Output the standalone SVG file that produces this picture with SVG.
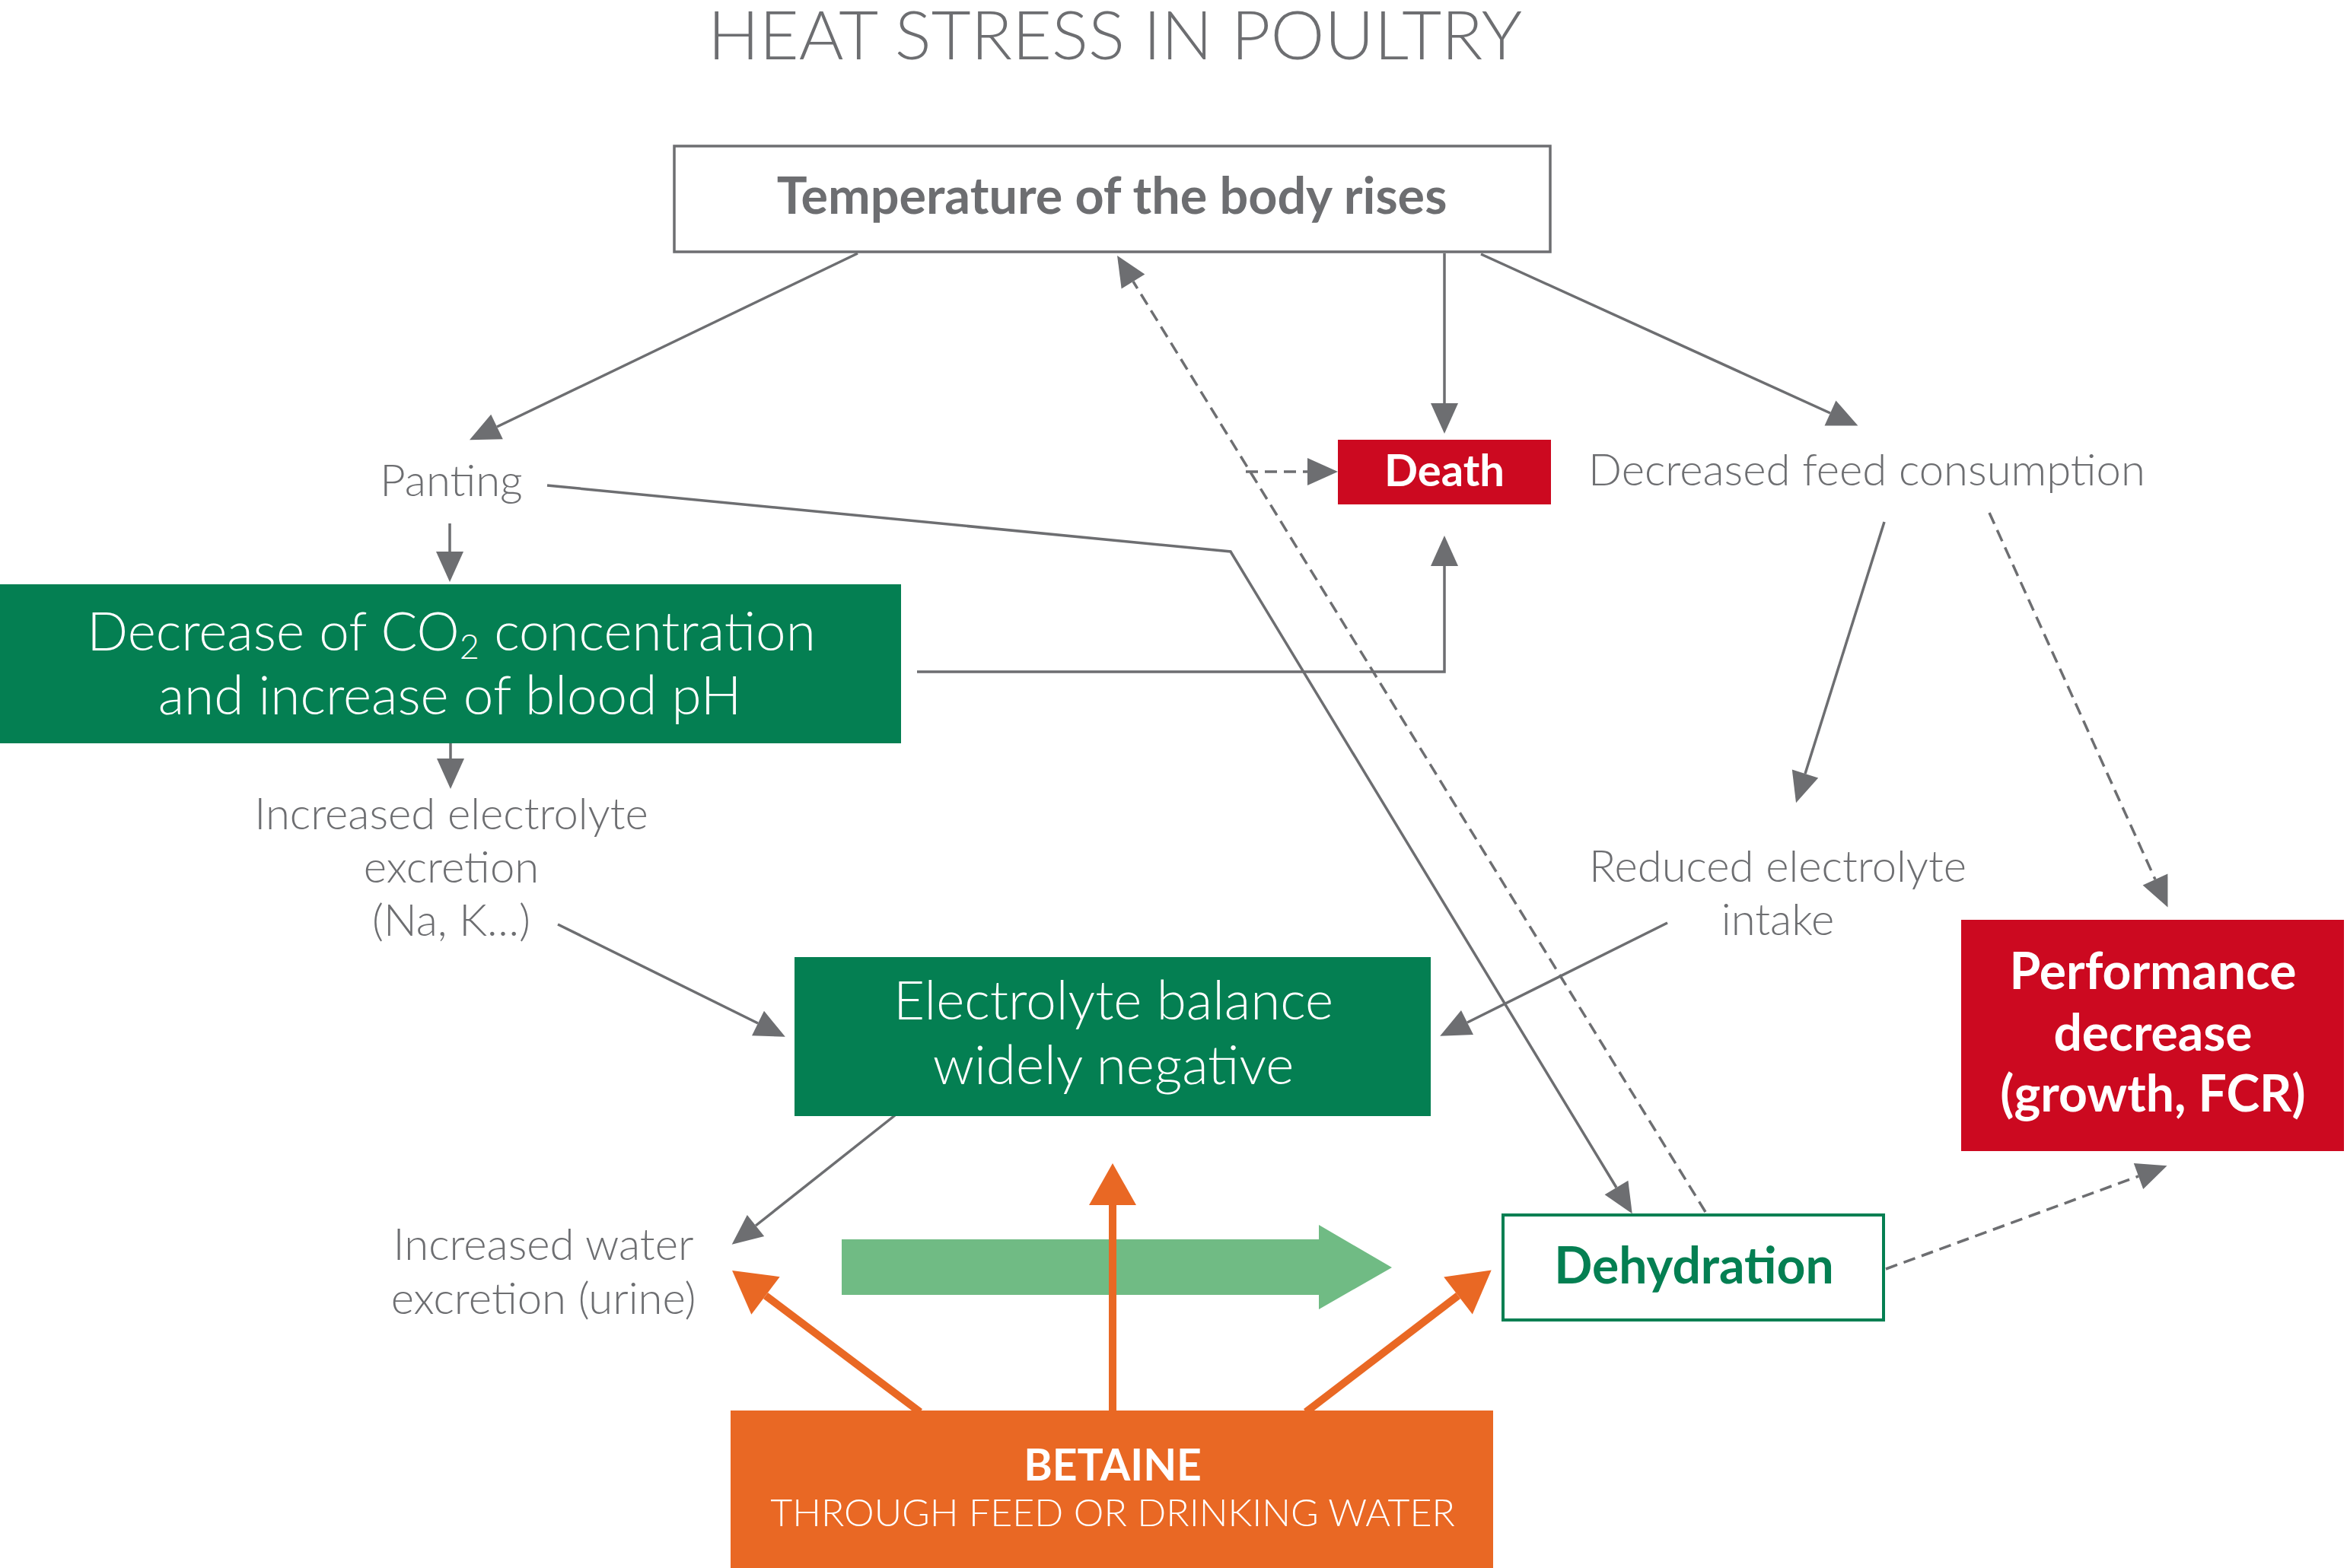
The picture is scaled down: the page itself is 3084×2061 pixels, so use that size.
<svg xmlns="http://www.w3.org/2000/svg" width="3084" height="2061" viewBox="0 0 3084 2061">
<defs>
<style>
.t{font-family:Lato,"Open Sans","Liberation Sans",sans-serif;text-anchor:middle}
.lt{font-weight:300}
.bd{font-weight:700}
.g{fill:#6d6e71}
.w{fill:#ffffff}
.c{fill:none;stroke:#6d6e71;stroke-width:3.5}
.d{stroke-dasharray:16 9}
.o{fill:none;stroke:#e96824;stroke-width:10}
</style>
<marker id="ah" viewBox="0 -18 40 36" refX="0" refY="0" markerWidth="40" markerHeight="36" markerUnits="userSpaceOnUse" orient="auto" overflow="visible">
<path d="M0,-18 L40,0 L0,18 z" fill="#6d6e71"/>
</marker>
<marker id="oh" viewBox="0 -31 55 62" refX="0" refY="0" markerWidth="55" markerHeight="62" markerUnits="userSpaceOnUse" orient="auto" overflow="visible">
<path d="M0,-31 L55,0 L0,31 z" fill="#e96824"/>
</marker>
</defs>
<rect width="3084" height="2061" fill="#ffffff"/>
<text class="t lt g" x="1465" y="78" font-size="88" textLength="1070" lengthAdjust="spacingAndGlyphs">HEAT STRESS IN POULTRY</text>

<g id="connectors">
<line class="c" x1="1127" y1="333" x2="653" y2="561" marker-end="url(#ah)"/>
<line class="c" x1="1898" y1="333" x2="1898" y2="530" marker-end="url(#ah)"/>
<line class="c" x1="1946" y1="334" x2="2405" y2="543" marker-end="url(#ah)"/>
<line class="c d" x1="2241" y1="1593" x2="1489" y2="370" marker-end="url(#ah)"/>
<line class="c d" x1="1637" y1="620" x2="1718" y2="620" marker-end="url(#ah)"/>
<polyline class="c" points="719,638 1617,725 2124,1561" marker-end="url(#ah)"/>
<line class="c" x1="2476" y1="686" x2="2372" y2="1017" marker-end="url(#ah)"/>
<line class="c d" x1="2614" y1="674" x2="2832" y2="1156" marker-end="url(#ah)"/>
<line class="c" x1="2191" y1="1213" x2="1928" y2="1344" marker-end="url(#ah)"/>
<line class="c d" x1="2478" y1="1668" x2="2810" y2="1546" marker-end="url(#ah)"/>
<line class="c" x1="591" y1="688" x2="591" y2="725" marker-end="url(#ah)"/>
<polyline class="c" points="1205,883 1898,883 1898,744" marker-end="url(#ah)"/>
<line class="c" x1="592" y1="977" x2="592" y2="997" marker-end="url(#ah)"/>
<line class="c" x1="733" y1="1215" x2="996" y2="1345" marker-end="url(#ah)"/>
<line class="c" x1="1176" y1="1466" x2="993" y2="1611" marker-end="url(#ah)"/>
<path d="M1106,1629 H1733 V1610 L1829,1666 L1733,1721 V1702 H1106 z" fill="#70bb84"/>
<line class="o" x1="1462" y1="1856" x2="1462" y2="1584" marker-end="url(#oh)"/>
<line class="o" x1="1209" y1="1856" x2="1006" y2="1703" marker-end="url(#oh)"/>
<line class="o" x1="1716" y1="1856" x2="1916" y2="1703" marker-end="url(#oh)"/>
</g>

<g id="node-temperature">
<rect x="886" y="192" width="1151" height="139" fill="#ffffff" stroke="#6d6e71" stroke-width="3.5"/>
<text class="t bd g" x="1461" y="281" font-size="66.5">Temperature of the body rises</text>
</g>
<g id="node-panting">
<text class="t lt g" x="593" y="652" font-size="58">Panting</text>
</g>
<g id="node-death">
<rect x="1758" y="578" width="280" height="85" fill="#cc0920"/>
<text class="t bd w" x="1898" y="639" font-size="58">Death</text>
</g>
<g id="node-feed">
<text class="t lt g" x="2453" y="638" font-size="58">Decreased feed consumption</text>
</g>
<g id="node-co2">
<rect x="0" y="768" width="1184" height="209" fill="#047f52"/>
<text class="t lt w" x="593" y="855" font-size="71">Decrease of CO<tspan font-size="45" dy="11">2</tspan><tspan dy="-11"> concentration</tspan></text>
<text class="t lt w" x="591" y="939" font-size="71">and increase of blood pH</text>
</g>
<g id="node-excretion">
<text class="t lt g" x="593" y="1090" font-size="58">Increased electrolyte</text>
<text class="t lt g" x="593" y="1160" font-size="58">excretion</text>
<text class="t lt g" x="593" y="1230" font-size="58">(Na, K…)</text>
</g>
<g id="node-reduced">
<text class="t lt g" x="2336" y="1159" font-size="58">Reduced electrolyte</text>
<text class="t lt g" x="2336" y="1229" font-size="58">intake</text>
</g>
<g id="node-balance">
<rect x="1044" y="1258" width="836" height="209" fill="#047f52"/>
<text class="t lt w" x="1463" y="1340" font-size="71">Electrolyte balance</text>
<text class="t lt w" x="1463" y="1425" font-size="71">widely negative</text>
</g>
<g id="node-performance">
<rect x="2577" y="1209" width="503" height="304" fill="#cc0920"/>
<text class="t bd w" x="2829" y="1300" font-size="66">Performance</text>
<text class="t bd w" x="2829" y="1381" font-size="66">decrease</text>
<text class="t bd w" x="2829" y="1461" font-size="66">(growth, FCR)</text>
</g>
<g id="node-water">
<text class="t lt g" x="714" y="1656" font-size="58">Increased water</text>
<text class="t lt g" x="714" y="1727" font-size="58">excretion (urine)</text>
</g>
<g id="node-dehydration">
<rect x="1975" y="1597" width="500" height="138" fill="#ffffff" stroke="#047f52" stroke-width="4"/>
<text class="t bd" fill="#047f52" x="2226" y="1687" font-size="66">Dehydration</text>
</g>
<g id="node-betaine">
<rect x="960" y="1854" width="1002" height="207" fill="#e96824"/>
<text class="t bd w" x="1462" y="1946" font-size="57">BETAINE</text>
<text class="t lt w" x="1462" y="2006" font-size="50">THROUGH FEED OR DRINKING WATER</text>
</g>
</svg>
